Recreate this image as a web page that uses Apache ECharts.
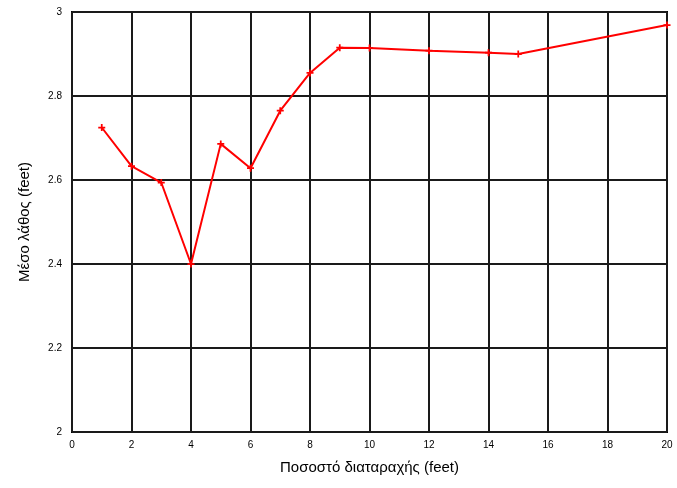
<!DOCTYPE html>
<html>
<head>
<meta charset="utf-8">
<script src="https://cdn.jsdelivr.net/npm/echarts@6/dist/echarts.min.js"></script>
<style>
html,body{margin:0;padding:0;background:#fff;}
#chart{width:677px;height:488px;}
</style>
</head>
<body>
<div id="chart"></div>
<script>
const xValues = [1, 2, 3, 4, 5, 6, 7, 8, 9, 10, 12, 14, 15, 20];
const yValues = [2.725, 2.633, 2.594, 2.40, 2.686, 2.628, 2.765, 2.855, 2.915, 2.914, 2.908, 2.903, 2.90, 2.969];
const xTitle = 'Ποσοστό διαταραχής (feet)';
const yTitle = 'Μέσο λάθος (feet)';

const points = xValues.map((x, i) => [x, yValues[i]]);
const chart = echarts.init(document.getElementById('chart'), null, {renderer: 'canvas'});
const gridLine = {show: true, lineStyle: {color: '#1a1a1a', width: 2, type: 'solid'}};
chart.setOption({
  animation: false,
  backgroundColor: '#ffffff',
  grid: {left: 72, right: 10, top: 12, bottom: 56, show: true, borderColor: '#000', borderWidth: 2, backgroundColor: 'transparent'},
  xAxis: {
    type: 'value', min: 0, max: 20, interval: 2,
    name: xTitle, nameLocation: 'middle', nameGap: 28,
    nameTextStyle: {fontFamily: 'Liberation Sans', fontSize: 15, color: '#000'},
    axisLine: {show: false},
    axisTick: {show: false},
    axisLabel: {fontFamily: 'Liberation Sans', fontSize: 10, color: '#000', margin: 8},
    splitLine: gridLine
  },
  yAxis: {
    type: 'value', min: 2, max: 3, interval: 0.2,
    name: yTitle, nameLocation: 'middle', nameGap: 40,
    nameTextStyle: {fontFamily: 'Liberation Sans', fontSize: 15, color: '#000'},
    axisLine: {show: false},
    axisTick: {show: false},
    axisLabel: {fontFamily: 'Liberation Sans', fontSize: 10, color: '#000', margin: 10,
      formatter: v => String(Math.round(v * 10) / 10)},
    splitLine: gridLine
  },
  series: [{
    type: 'line',
    data: points,
    lineStyle: {color: '#ff0000', width: 2},
    itemStyle: {color: '#ff0000'},
    symbol: 'path://M-1,-4H1V-1H4V1H1V4H-1V1H-4V-1H-4V-1H-1Z',
    symbolSize: 7,
    showSymbol: true
  }]
});
</script>
</body>
</html>
